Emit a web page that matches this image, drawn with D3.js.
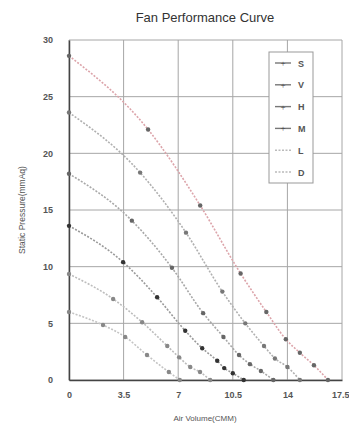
<!DOCTYPE html>
<html><head><meta charset="utf-8">
<script src="https://cdn.jsdelivr.net/npm/d3@7"></script>
<style>body{margin:0;background:#fff}svg{display:block}</style>
</head><body>
<svg id="c" width="349" height="428"></svg>
<script>
const title = "Fan Performance Curve";
const xLabel = "Air Volume(CMM)";
const yLabel = "Static Pressure(mmAq)";
const xTicks = [0, 3.5, 7, 10.5, 14, 17.5];
const yTicks = [0, 5, 10, 15, 20, 25, 30];
const seriesNames = ["S", "V", "H", "M", "L", "D"];
const sX = [0, 5.07, 8.41, 11.0, 12.65, 13.9, 14.8, 15.7, 16.6];
const sY = [28.6, 22.1, 15.4, 9.4, 6.0, 3.6, 2.4, 1.3, 0];
const vX = [0, 4.56, 7.5, 9.83, 11.3, 12.5, 13.2, 14.0, 14.8];
const vY = [23.6, 18.3, 13.0, 7.8, 5.0, 3.0, 1.9, 1.15, 0];
const hX = [0, 4.03, 6.6, 8.6, 9.9, 10.9, 11.6, 12.3, 13.1];
const hY = [18.2, 14.06, 9.9, 5.9, 3.8, 2.2, 1.4, 0.8, 0];
const mX = [0, 3.47, 5.65, 7.45, 8.54, 9.5, 9.95, 10.5, 11.2];
const mY = [13.6, 10.4, 7.3, 4.35, 2.8, 1.7, 1.05, 0.6, 0];
const lX = [0, 2.83, 4.69, 6.3, 7.06, 7.77, 8.4, 9.05];
const lY = [9.35, 7.15, 5.1, 3.0, 2.0, 1.15, 0.7, 0];
const dX = [0, 2.18, 3.6, 5.0, 6.4, 7.1];
const dY = [6.0, 4.85, 3.8, 2.2, 0.7, 0];

const seriesX = [sX, vX, hX, mX, lX, dX];
const seriesY = [sY, vY, hY, mY, lY, dY];
const lineColors = ["#dca4aa", "#b0b0b0", "#a8a8a8", "#9a9a9a", "#bdbdbd", "#c4c4c4"];
const dotColors = ["#666", "#777", "#666", "#333", "#888", "#888"];

const svg = d3.select("#c");
const m = {l: 69, r: 7, t: 40, b: 48};
const W = 349, H = 428;
const x = d3.scaleLinear().domain([0, 17.5]).range([m.l, W - m.r]);
const y = d3.scaleLinear().domain([0, 30]).range([H - m.b, m.t]);

// grid
svg.append("g").selectAll("line").data(xTicks).join("line")
  .attr("x1", d => x(d)).attr("x2", d => x(d)).attr("y1", y(0)).attr("y2", y(30))
  .attr("stroke", "#a6a6a6").attr("stroke-width", 1);
svg.append("g").selectAll("line").data(yTicks).join("line")
  .attr("y1", d => y(d)).attr("y2", d => y(d)).attr("x1", x(0)).attr("x2", x(17.5))
  .attr("stroke", "#a6a6a6").attr("stroke-width", 1);

// axes
const xa = svg.append("g").attr("transform", `translate(0,${y(0)})`)
  .call(d3.axisBottom(x).tickValues(xTicks).tickFormat(d => d).tickSize(0).tickPadding(12));
const ya = svg.append("g").attr("transform", `translate(${x(0)},0)`)
  .call(d3.axisLeft(y).tickValues(yTicks).tickFormat(d => d).tickSize(0).tickPadding(16));
[xa, ya].forEach(a => {
  a.select(".domain").attr("stroke", "#444").attr("stroke-width", 1.5);
  a.selectAll("text").attr("fill", "#555").attr("font-family", "Liberation Sans, Arial, sans-serif")
    .attr("font-size", 9).attr("font-weight", "bold");
});
xa.selectAll(".tick text").filter(d => d === 17.5).attr("text-anchor", "end").attr("dx", 7);

// series
const line = d3.line().x(d => x(d[0])).y(d => y(d[1])).curve(d3.curveMonotoneX);
seriesNames.forEach((name, i) => {
  const pts = seriesX[i].map((v, j) => [v, seriesY[i][j]]);
  svg.append("path").datum(pts).attr("d", line).attr("fill", "none")
    .attr("stroke", lineColors[i]).attr("stroke-width", 1.6).attr("stroke-dasharray", "2,1.5");
  svg.append("g").selectAll("circle").data(pts).join("circle")
    .attr("cx", d => x(d[0])).attr("cy", d => y(d[1])).attr("r", 2.2)
    .attr("fill", dotColors[i]);
});

// title & labels
svg.append("text").attr("x", 205).attr("y", 22).attr("text-anchor", "middle")
  .attr("font-family", "Liberation Sans, Arial, sans-serif").attr("font-size", 13).attr("fill", "#333")
  .text(title);
svg.append("text").attr("x", 205).attr("y", 421).attr("text-anchor", "middle")
  .attr("font-family", "Liberation Sans, Arial, sans-serif").attr("font-size", 8).attr("fill", "#555")
  .text(xLabel);
svg.append("text").attr("transform", `translate(25,${(y(0) + y(30)) / 2}) rotate(-90)`)
  .attr("text-anchor", "middle").attr("font-family", "Liberation Sans, Arial, sans-serif")
  .attr("font-size", 8.5).attr("fill", "#555").text(yLabel);

// legend
const lg = svg.append("g");
lg.append("rect").attr("x", 269).attr("y", 52).attr("width", 44).attr("height", 131)
  .attr("fill", "#fff").attr("stroke", "#999").attr("stroke-width", 1);
seriesNames.forEach((name, i) => {
  const yy = 63 + i * 21.8;
  lg.append("line").attr("x1", 275).attr("x2", 291).attr("y1", yy).attr("y2", yy)
    .attr("stroke", i < 4 ? "#777" : "#bbb").attr("stroke-width", 1.4)
    .attr("stroke-dasharray", i < 4 ? null : "2,1.5");
  if (i < 4) lg.append("text").attr("x", 283).attr("y", yy + 3).attr("text-anchor", "middle")
    .attr("font-size", 9).attr("fill", "#444").text("+");
  lg.append("text").attr("x", 298).attr("y", yy + 3.5).attr("font-size", 9).attr("font-weight", "bold")
    .attr("font-family", "Liberation Sans, Arial, sans-serif").attr("fill", "#555").text(name);
});
</script>
</body></html>
